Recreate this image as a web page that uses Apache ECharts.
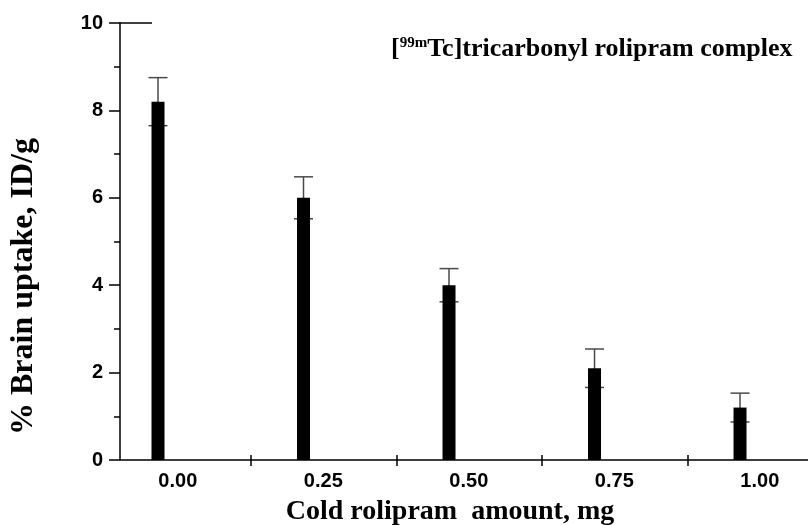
<!DOCTYPE html>
<html>
<head>
<meta charset="utf-8">
<script src="https://cdn.jsdelivr.net/npm/echarts@6/dist/echarts.min.js"></script>
<style>html,body{margin:0;padding:0;background:#fff}#c{width:808px;height:525px}</style>
</head>
<body>
<div id="c"></div>
<script>
// ---- data ----
var doses = [0.00, 0.25, 0.50, 0.75, 1.00];
var tickLabels = ['0.00', '0.25', '0.50', '0.75', '1.00'];
var uptake = [8.2, 6.0, 4.0, 2.1, 1.2];
var uptakeErr = [0.55, 0.48, 0.38, 0.44, 0.33];
var yTicks = [0, 2, 4, 6, 8, 10];

var barData = doses.map(function (d, i) { return [d, uptake[i]]; });
var errData = doses.map(function (d, i) { return [d, uptake[i] - uptakeErr[i], uptake[i] + uptakeErr[i]]; });

var chart = echarts.init(document.getElementById('c'), null, { renderer: 'canvas' });
var sans = 'Liberation Sans';
var serif = 'Liberation Serif';
var xMin = -0.0653, xMax = 1.1168;

chart.setOption({
  animation: false,
  backgroundColor: '#fff',
  grid: { left: 120, right: 0, top: 23, bottom: 65, outerBoundsMode: 'none', containLabel: false },
  title: {
    left: 386, top: 31,
    text: '[{sup|99m}Tc]tricarbonyl rolipram complex',
    textStyle: {
      fontFamily: serif, fontWeight: 'bold', fontSize: 26, color: '#000',
      rich: {
        sup: { fontFamily: serif, fontWeight: 'bold', fontSize: 15, color: '#000', verticalAlign: 'bottom', padding: [0, 0, 11, 0] }
      }
    }
  },
  xAxis: [{
    type: 'value', min: xMin, max: xMax,
    name: 'Cold rolipram  amount, mg', nameLocation: 'middle', nameGap: 38,
    nameTextStyle: { fontFamily: serif, fontWeight: 'bold', fontSize: 28, color: '#000', padding: [0, 28, 0, 0] },
    axisLine: { show: true, onZero: false, lineStyle: { color: '#000', width: 1.5 } },
    axisTick: { show: true, inside: false, length: 6, lineStyle: { color: '#000', width: 1.5 }, customValues: [0.16, 0.41, 0.66, 0.91] },
    axisLabel: {
      show: true, margin: 11, fontFamily: sans, fontWeight: 'bold', fontSize: 20, color: '#000',
      customValues: doses.map(function (d) { return d + 0.034; }),
      formatter: function (v) { return tickLabels[Math.round(v / 0.25)]; }
    },
    splitLine: { show: false }
  }, {
    type: 'value', min: xMin, max: xMax, position: 'bottom',
    axisLine: { show: false, onZero: false },
    axisTick: { show: true, inside: true, length: 5, lineStyle: { color: '#000', width: 1.5 }, customValues: [0.16, 0.41, 0.66, 0.91] },
    axisLabel: { show: false },
    splitLine: { show: false }
  }],
  yAxis: {
    type: 'value', min: 0, max: 10, interval: 2,
    name: '% Brain uptake, ID/g', nameLocation: 'middle', nameGap: 80, nameRotate: 90,
    nameTextStyle: { fontFamily: serif, fontWeight: 'bold', fontSize: 32, color: '#000', padding: [0, 90, 0, 0] },
    axisLine: { show: true, onZero: false, lineStyle: { color: '#000', width: 1.5 } },
    axisTick: { show: true, inside: false, length: 11, lineStyle: { color: '#000', width: 1.5 } },
    minorTick: { show: true, splitNumber: 2, length: 6, lineStyle: { color: '#000', width: 1.5 } },
    axisLabel: {
      margin: 17, fontFamily: sans, fontWeight: 'bold', fontSize: 20, color: '#000',
      formatter: function (v) { return yTicks.indexOf(v) >= 0 ? String(v) : ''; }
    },
    splitLine: { show: false }
  },
  graphic: [{
    type: 'line', shape: { x1: 120, y1: 23, x2: 152, y2: 23 },
    style: { stroke: '#000', lineWidth: 1.5 }
  }],
  series: [{
    type: 'custom',
    xAxisIndex: 0,
    z: 1,
    data: errData,
    renderItem: function (params, api) {
      var x = api.value(0);
      var lo = api.coord([x, api.value(1)]);
      var hi = api.coord([x, api.value(2)]);
      var hw = 9.5;
      var st = { stroke: '#4a4a4a', lineWidth: 1.5 };
      return {
        type: 'group',
        children: [
          { type: 'line', shape: { x1: lo[0], y1: lo[1], x2: hi[0], y2: hi[1] }, style: st },
          { type: 'line', shape: { x1: hi[0] - hw, y1: hi[1], x2: hi[0] + hw, y2: hi[1] }, style: st },
          { type: 'line', shape: { x1: lo[0] - hw, y1: lo[1], x2: lo[0] + hw, y2: lo[1] }, style: st }
        ]
      };
    }
  }, {
    type: 'bar',
    xAxisIndex: 0,
    z: 2,
    barWidth: 13,
    data: barData,
    itemStyle: { color: '#000' }
  }]
});
</script>
</body>
</html>
